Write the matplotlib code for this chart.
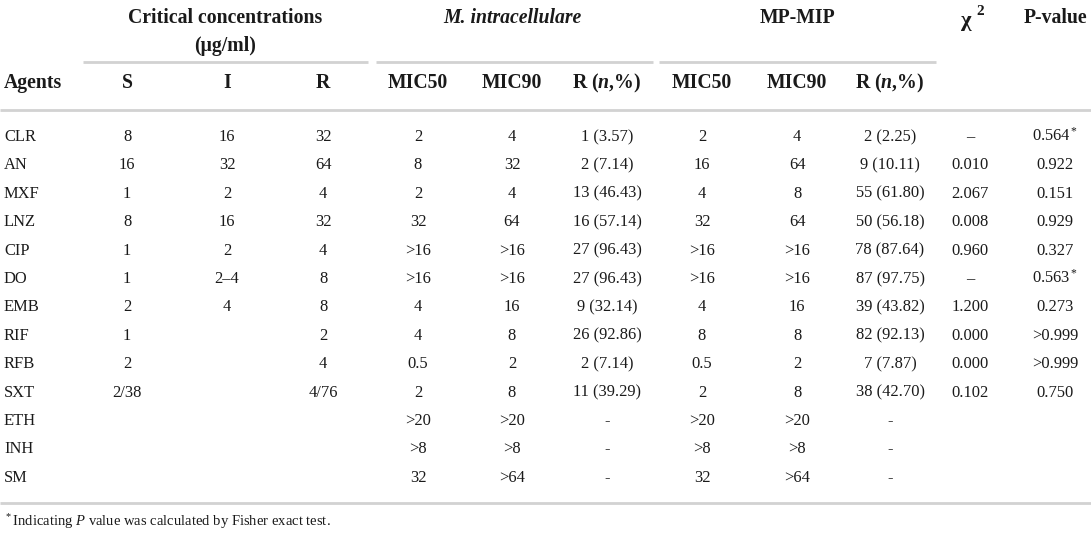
import matplotlib
matplotlib.use("Agg")
import matplotlib.pyplot as plt

plt.rcParams['font.family'] = ['Liberation Serif', 'DejaVu Serif']
plt.rcParams['mathtext.fontset'] = 'custom'
plt.rcParams['mathtext.rm'] = 'Liberation Serif'
plt.rcParams['mathtext.it'] = 'Liberation Serif:italic'
plt.rcParams['mathtext.bf'] = 'Liberation Serif:bold'
plt.rcParams['mathtext.bfit'] = 'Liberation Serif:italic:bold'

# table data
agents = ["CLR", "AN", "MXF", "LNZ", "CIP", "DO", "EMB", "RIF", "RFB", "SXT", "ETH", "INH", "SM"]
crit_s = ["8", "16", "1", "8", "1", "1", "2", "1", "2", "2/38", "", "", ""]
crit_i = ["16", "32", "2", "16", "2", "2–4", "4", "", "", "", "", "", ""]
crit_r = ["32", "64", "4", "32", "4", "8", "8", "2", "4", "4/76", "", "", ""]
mi_mic50 = ["2", "8", "2", "32", ">16", ">16", "4", "4", "0.5", "2", ">20", ">8", "32"]
mi_mic90 = ["4", "32", "4", "64", ">16", ">16", "16", "8", "2", "8", ">20", ">8", ">64"]
mi_r = ["1 (3.57)", "2 (7.14)", "13 (46.43)", "16 (57.14)", "27 (96.43)", "27 (96.43)",
        "9 (32.14)", "26 (92.86)", "2 (7.14)", "11 (39.29)", "-", "-", "-"]
mp_mic50 = ["2", "16", "4", "32", ">16", ">16", "4", "8", "0.5", "2", ">20", ">8", "32"]
mp_mic90 = ["4", "64", "8", "64", ">16", ">16", "16", "8", "2", "8", ">20", ">8", ">64"]
mp_r = ["2 (2.25)", "9 (10.11)", "55 (61.80)", "50 (56.18)", "78 (87.64)", "87 (97.75)",
        "39 (43.82)", "82 (92.13)", "7 (7.87)", "38 (42.70)", "-", "-", "-"]
chi2 = ["–", "0.010", "2.067", "0.008", "0.960", "–", "1.200", "0.000", "0.000", "0.102", "", "", ""]
pval = ["0.564$^*$", "0.922", "0.151", "0.929", "0.327", "0.563$^*$", "0.273",
        ">0.999", ">0.999", "0.750", "", "", ""]

sub_headers = ["S", "I", "R", "MIC50", "MIC90", r"R ($\mathbfit{n}$,%)",
               "MIC50", "MIC90", r"R ($\mathbfit{n}$,%)"]
footnote = r"$^*$Indicating $\mathit{P}$ value was calculated by Fisher exact test."

W, H = 1091, 533
fig = plt.figure(figsize=(W / 100, H / 100), dpi=100)
ax = fig.add_axes([0, 0, 1, 1])
ax.set_xlim(0, W)
ax.set_ylim(H, 0)
ax.axis("off")

col_x = [127, 227, 323, 418, 512, 607, 702, 797, 890, 970, 1055]
line_col = "#d2d2d2"
txt_col = "#1a1a1a"
hfs = 14.2
bfs = 11.9

# group headers
ax.text(225, 23, "Critical concentrations", ha="center", va="baseline", fontsize=hfs, fontweight="bold", color=txt_col)
ax.text(225, 51, "(μg/ml)", ha="center", va="baseline", fontsize=hfs, fontweight="bold", color=txt_col)
ax.text(512, 23, "M. intracellulare", ha="center", va="baseline", fontsize=hfs, fontweight="bold",
        fontstyle="italic", color=txt_col)
ax.text(797, 23, "MP-MIP", ha="center", va="baseline", fontsize=hfs, fontweight="bold", color=txt_col)
ax.text(966, 26, "χ", ha="center", va="baseline", fontsize=hfs + 2, fontweight="bold", color=txt_col)
ax.text(980, 15, "2", ha="center", va="baseline", fontsize=11, fontweight="bold", color=txt_col)
ax.text(1055, 23, "P-value", ha="center", va="baseline", fontsize=hfs, fontweight="bold", color=txt_col)

# partial rules under group headers
for x0, x1 in [(83, 368), (376, 653), (659, 936)]:
    ax.plot([x0, x1], [62, 62], color=line_col, lw=2, solid_capstyle="butt")

# column headers
ax.text(4, 88, "Agents", ha="left", va="baseline", fontsize=hfs, fontweight="bold", color=txt_col)
for x, lab in zip(col_x, sub_headers):
    ax.text(x, 88, lab, ha="center", va="baseline", fontsize=hfs, fontweight="bold", color=txt_col)

# full rules
ax.plot([0, W], [110, 110], color=line_col, lw=2, solid_capstyle="butt")
ax.plot([0, W], [503, 503], color=line_col, lw=2, solid_capstyle="butt")

# body rows
columns = [crit_s, crit_i, crit_r, mi_mic50, mi_mic90, mi_r, mp_mic50, mp_mic90, mp_r, chi2, pval]
for i, name in enumerate(agents):
    y = 136 + i * 28.4 + 5
    ax.text(4, y, name, ha="left", va="baseline", fontsize=bfs, color=txt_col)
    for x, col in zip(col_x, columns):
        if col[i]:
            ax.text(x, y, col[i], ha="center", va="baseline", fontsize=bfs, color=txt_col)

ax.text(4, 526, footnote, ha="left", va="baseline", fontsize=10.5, color=txt_col)

fig.savefig("out.png", dpi=100, facecolor="white")
